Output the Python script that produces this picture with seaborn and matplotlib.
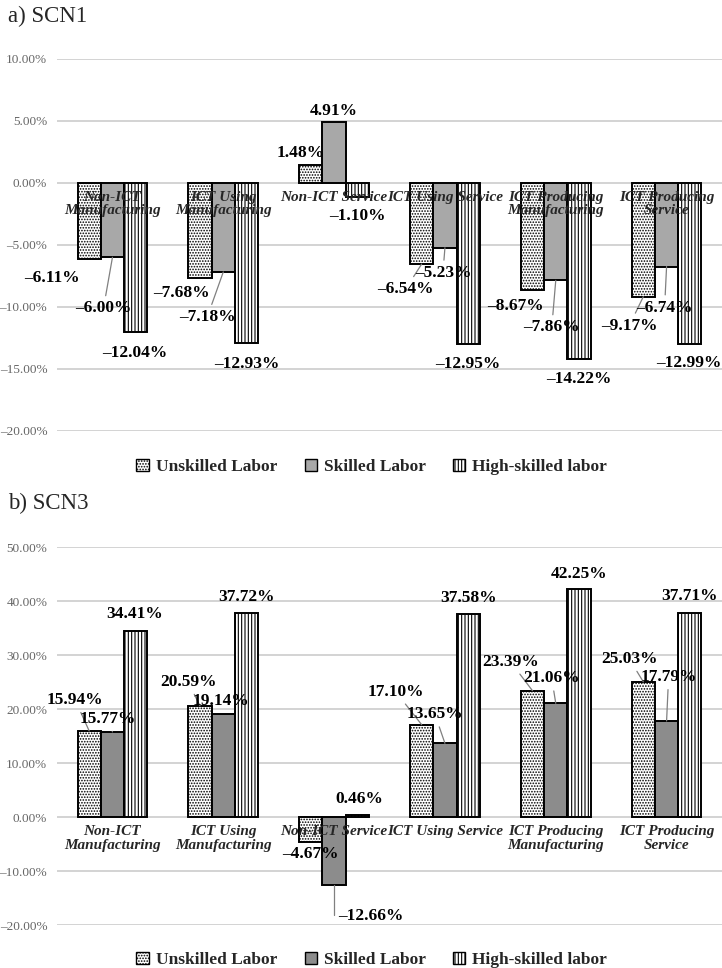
import matplotlib
matplotlib.use("Agg")
import matplotlib.pyplot as plt
from matplotlib.patches import Patch
from matplotlib.ticker import MultipleLocator, FuncFormatter
import numpy as np
import pandas as pd
import seaborn as sns

sectors = ["Non-ICT\nManufacturing", "ICT Using\nManufacturing", "Non-ICT Service",
           "ICT Using Service", "ICT Producing\nManufacturing", "ICT Producing\nService"]
labor = ["Unskilled Labor", "Skilled Labor", "High-skilled labor"]

scn1_unskilled = [-6.11, -7.68, 1.48, -6.54, -8.67, -9.17]
scn1_skilled = [-6.00, -7.18, 4.91, -5.23, -7.86, -6.74]
scn1_high = [-12.04, -12.93, -1.10, -12.95, -14.22, -12.99]

scn3_unskilled = [15.94, 20.59, -4.67, 17.10, 23.39, 25.03]
scn3_skilled = [15.77, 19.14, -12.66, 13.65, 21.06, 17.79]
scn3_high = [34.41, 37.72, 0.46, 37.58, 42.25, 37.71]

# label offsets in pixels (dx right, dy down) and leader line kind (0 none, 1 straight, 2 elbow)
off1 = [
    [(-37, 19, 0), (-19, 15, 0), (-10, -12, 0), (-16, 25, 1), (-17, 16, 0), (-14, 29, 1)],
    [(-9, 51, 1), (-16, 45, 1), (0, -11, 0), (-2, 25, 1), (-4, 47, 1), (-2, 41, 1)],
    [(-1, 21, 0), (0, 21, 0), (0, 19, 0), (0, 20, 0), (0, 20, 0), (-1, 19, 0)],
]
off3 = [
    [(-14, -31, 1), (-12, -24, 1), (0, 12, 0), (-26, -33, 1), (-22, -29, 1), (-14, -23, 1)],
    [(-5, -13, 1), (-2, -13, 0), (37, 31, 2), (-10, -29, 1), (-4, -25, 1), (2, -44, 1)],
    [(-1, -17, 0), (0, -16, 0), (2, -16, 0), (0, -16, 0), (0, -15, 0), (0, -17, 0)],
]

sns.set_theme(style="whitegrid")
plt.rcParams["font.family"] = ["Liberation Serif", "DejaVu Serif"]
plt.rcParams["hatch.linewidth"] = 0.8

hatches = ["......", "", "|||||"]


def fmt(v):
    return f"{v:.2f}%".replace("-", "\u2013")


def panel(ax, series, gray, ylim, step, offsets):
    df = pd.DataFrame({
        "sector": np.repeat([sectors], 3, axis=0).ravel(),
        "labor": np.repeat(labor, len(sectors)),
        "value": np.concatenate(series),
    })
    sns.barplot(data=df, x="sector", y="value", hue="labor", order=sectors,
                hue_order=labor, width=0.63, ax=ax, legend=False,
                edgecolor="black", linewidth=1.4, saturation=1)
    faces = ["white", gray, "white"]
    for k, cont in enumerate(ax.containers):
        for p in cont.patches:
            p.set_facecolor(faces[k])
            p.set_hatch(hatches[k])
            p.set_edgecolor("black")
            p.set_zorder(2)
        for p, v, (dx, dy, lead) in zip(cont.patches, series[k], offsets[k]):
            cx = p.get_x() + p.get_width() / 2
            kw = {}
            if lead == 1:
                kw["arrowprops"] = dict(arrowstyle="-", color="#808080", lw=0.9,
                                        shrinkA=1, shrinkB=0)
            elif lead == 2:
                kw["arrowprops"] = dict(arrowstyle="-", color="#808080", lw=0.9,
                                        shrinkA=1, shrinkB=0,
                                        connectionstyle="angle,angleA=0,angleB=90,rad=0")
            ax.annotate(fmt(v), xy=(cx, v), xytext=(dx, -dy), textcoords="offset pixels",
                        ha="center", va="center", fontsize=12.5, fontweight="bold",
                        color="black", zorder=6, **kw)
    ax.set_ylim(*ylim)
    ax.set_xlim(-0.5, len(sectors) - 0.5)
    ax.yaxis.set_major_locator(MultipleLocator(step))
    ax.yaxis.set_major_formatter(FuncFormatter(lambda v, _: fmt(v)))
    ax.tick_params(axis="y", length=0, pad=7, labelsize=9.5, labelcolor="#666666")
    ax.set_xticks([])
    ax.set_xlabel("")
    ax.set_ylabel("")
    ax.grid(axis="x", visible=False)
    ax.grid(axis="y", color="#d0d0d0", lw=1.3)
    for s in ax.spines.values():
        s.set_visible(False)
    for i, name in enumerate(sectors):
        ax.annotate(name, xy=(i, 0), xytext=(0, -8), textcoords="offset pixels",
                    ha="center", va="top", fontsize=11, fontweight="bold",
                    fontstyle="italic", linespacing=1.05, zorder=7)


fig = plt.figure(figsize=(7.22, 9.68), dpi=100)
ax1 = fig.add_axes([0.079, 0.5548, 0.921, 0.3843])
ax2 = fig.add_axes([0.079, 0.0444, 0.921, 0.3905])

panel(ax1, [scn1_unskilled, scn1_skilled, scn1_high], "#a8a8a8", (-20, 10), 5, off1)
panel(ax2, [scn3_unskilled, scn3_skilled, scn3_high], "#8c8c8c", (-20, 50), 10, off3)

fig.text(0.011, 1 - 16 / 968, "a) SCN1", fontsize=16.5, va="center", ha="left")
fig.text(0.011, 1 - 503 / 968, "b) SCN3", fontsize=16.5, va="center", ha="left")

for y, gray in [(1 - 467 / 968, "#a8a8a8"), (1 - 960 / 968, "#8c8c8c")]:
    handles = [Patch(facecolor=f, edgecolor="black", hatch=h, lw=1.0, label=l)
               for f, h, l in zip(["white", gray, "white"], hatches, labor)]
    fig.legend(handles=handles, loc="center", bbox_to_anchor=(0.515, y), ncol=3,
               frameon=False, prop=dict(size=12.5, weight="bold"),
               handlelength=0.7, handleheight=0.7, handletextpad=0.4,
               columnspacing=1.6)

fig.savefig("out.png", dpi=100, facecolor="white")
